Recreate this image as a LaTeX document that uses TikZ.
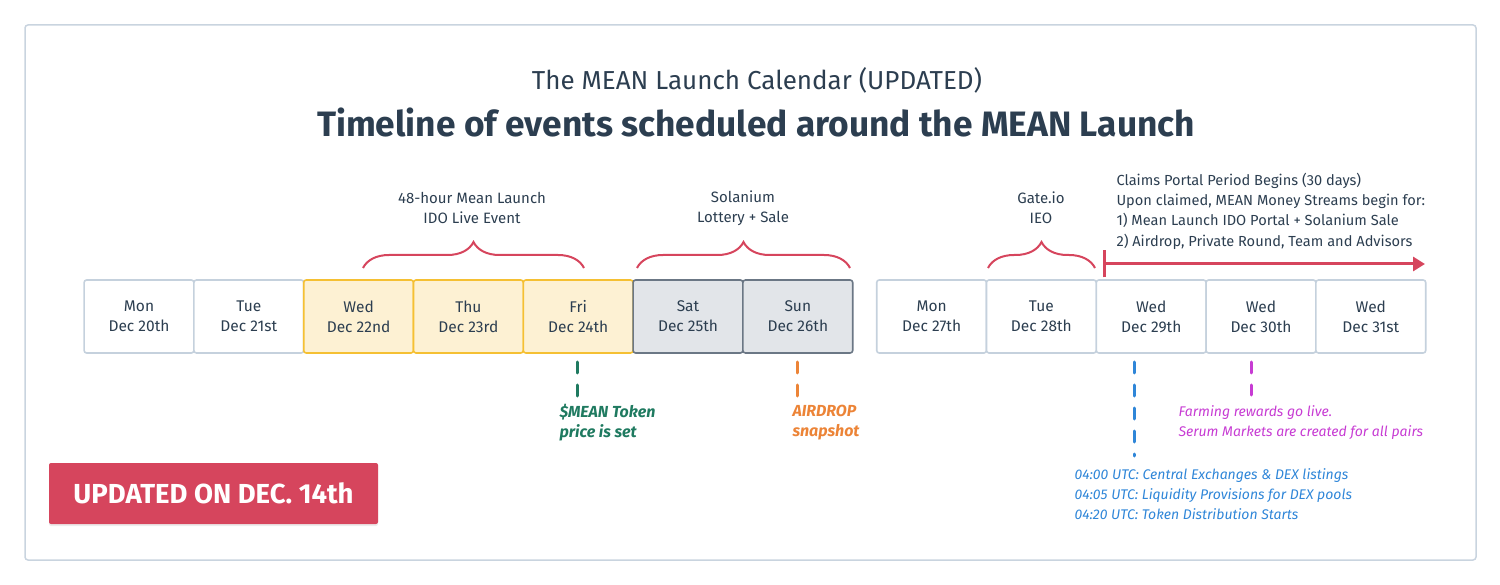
\documentclass[tikz,border=0pt]{standalone}
\usepackage{fontspec}
\setmainfont{Fira Sans}
\usetikzlibrary{arrows.meta, positioning, decorations.pathreplacing, shadows}

\definecolor{darktext}{HTML}{2C3E50}
\definecolor{frameline}{HTML}{C9D4DF}
\definecolor{plainline}{HTML}{C5D1DD}
\definecolor{idofill}{HTML}{FDF1D3}
\definecolor{idoline}{HTML}{F5C033}
\definecolor{wkndfill}{HTML}{E2E5E9}
\definecolor{wkndline}{HTML}{6B7785}
\definecolor{meanred}{HTML}{D6455D}
\definecolor{pricegreen}{HTML}{1F7A60}
\definecolor{droporange}{HTML}{EC8437}
\definecolor{listblue}{HTML}{2F86D8}
\definecolor{farmpink}{HTML}{C73CD3}

\begin{document}
\begin{tikzpicture}[
    x=1pt, y=-1pt,
    font=\fontsize{15}{20}\selectfont,
    day/.style={draw=plainline, fill=white, rounded corners=2.5pt, line width=1.6pt,
                minimum width=109.8pt, minimum height=73pt, inner sep=0pt, outer sep=0pt,
                align=center, text=darktext, font=\fontsize{15.5}{20}\selectfont},
    ido/.style={day, draw=idoline, fill=idofill},
    wknd/.style={day, draw=wkndline, fill=wkndfill},
    brc/.style={draw=meanred, line width=2pt, decorate,
                decoration={brace, amplitude=26pt}},
    lab/.style={align=center, text=darktext},
    note/.style={align=left, anchor=west, font=\fontsize{14}{20}\selectfont\itshape},
    markline/.style={line width=3pt, line cap=round, dash pattern=on 11pt off 12pt},
]
    \useasboundingbox (0,0) rectangle (1500,585);

    %==================== FRAME + TITLES ====================
    \draw[frameline, line width=1.5pt, rounded corners=3pt] (25,25) rectangle (1476,560);
    \node[text=darktext, font=\fontsize{26}{30}\selectfont] (title) at (757,80)
        {The MEAN Launch Calendar (UPDATED)};
    \node[text=darktext, font=\fontsize{35.3}{40}\selectfont\bfseries] (subtitle) at (756,122)
        {Timeline of events scheduled around the MEAN Launch};

    %==================== WEEK 1 ====================
    \node[day] (d20) at (139,316.5) {Mon\\Dec 20th};
    \node[day, right=0pt of d20] (d21) {Tue\\Dec 21st};
    \node[ido, right=0pt of d21] (d22) {Wed\\Dec 22nd};
    \node[ido, right=0pt of d22] (d23) {Thu\\Dec 23rd};
    \node[ido, right=0pt of d23] (d24) {Fri\\Dec 24th};
    \node[wknd, right=0pt of d24] (d25) {Sat\\Dec 25th};
    \node[wknd, right=0pt of d25] (d26) {Sun\\Dec 26th};

    %==================== WEEK 2 ====================
    \node[day, right=24pt of d26] (d27) {Mon\\Dec 27th};
    \node[day, right=0pt of d27] (d28) {Tue\\Dec 28th};
    \node[day, right=0pt of d28] (d29) {Wed\\Dec 29th};
    \node[day, right=0pt of d29] (d30) {Wed\\Dec 30th};
    \node[day, right=0pt of d30] (d31) {Wed\\Dec 31st};

    %==================== BRACES ====================
    \draw[brc] (363,268) -- (584,268);
    \node[lab] (idolab) at (472,208) {48-hour Mean Launch\\IDO Live Event};
    \draw[brc] (637,268) -- (850,268);
    \node[lab] (sollab) at (743,208) {Solanium\\Lottery + Sale};
    \draw[brc] (988,268) -- (1095,268);
    \node[lab] (gatelab) at (1041,208) {Gate.io\\IEO};

    %==================== CLAIMS PERIOD ====================
    \coordinate (cstart) at (1103,264);
    \coordinate (cend) at (1425,264);
    \draw[meanred, line width=3pt, {Bar[width=27pt]}-{Triangle[length=12pt, width=14pt]}]
        (cstart) -- (cend);
    \node[align=left, anchor=west, text=darktext, font=\fontsize{14.6}{20.3}\selectfont]
        (claimlab) at (1113,211)
        {Claims Portal Period Begins (30 days)\\
         Upon claimed, MEAN Money Streams begin for:\\
         1) Mean Launch IDO Portal + Solanium Sale\\
         2) Airdrop, Private Round, Team and Advisors};

    %==================== MARKERS ====================
    \coordinate (gtop) at (577,362);  \coordinate (gbot) at (577,396);
    \coordinate (otop) at (797,362);  \coordinate (obot) at (797,396);
    \coordinate (btop) at (1134,362); \coordinate (bbot) at (1134,456);
    \coordinate (ptop) at (1251,362); \coordinate (pbot) at (1251,395);
    \draw[markline, pricegreen] (gtop) -- (gbot);
    \draw[markline, droporange] (otop) -- (obot);
    \draw[markline, listblue] (btop) -- (bbot);
    \draw[markline, farmpink] (ptop) -- (pbot);

    \node[note, text=pricegreen, font=\fontsize{16}{20}\selectfont\bfseries\itshape] (pricelab)
        at (556,423) {\$MEAN Token\\price is set};
    \node[note, text=droporange, font=\fontsize{16}{20}\selectfont\bfseries\itshape] (droplab)
        at (789,423) {AIRDROP\\snapshot};
    \node[note, text=farmpink] (farmlab) at (1175,423)
        {Farming rewards go live.\\Serum Markets are created for all pairs};
    \node[note, text=listblue] (listlab) at (1071,494)
        {04:00 UTC: Central Exchanges \& DEX listings\\
         04:05 UTC: Liquidity Provisions for DEX pools\\
         04:20 UTC: Token Distribution Starts};

    %==================== UPDATE BADGE ====================
    \node[fill=meanred, rounded corners=2pt, minimum width=329pt, minimum height=61pt,
          text=white, font=\fontsize{27.5}{30}\selectfont\bfseries,
          drop shadow={opacity=0.15, shadow xshift=0pt, shadow yshift=-2pt}] (badge)
        at (213.5,493.5) {UPDATED ON DEC. 14th};

\end{tikzpicture}
\end{document}
